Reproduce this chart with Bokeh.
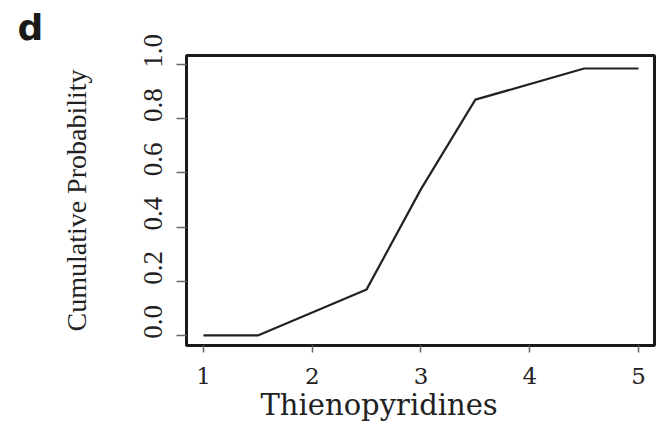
import numpy as np
from bokeh.plotting import figure
from bokeh.models import FixedTicker, Title, Range1d
from bokeh.embed import file_html
from bokeh.resources import INLINE

# ---- data ----
x_values = [1.0, 1.5, 2.5, 3.0, 3.5, 4.5, 5.0]
cum_prob = [0.0, 0.0, 0.17, 0.54, 0.87, 0.985, 0.985]
x_ticks = [1, 2, 3, 4, 5]
y_ticks = [0.0, 0.2, 0.4, 0.6, 0.8, 1.0]
y_tick_labels = ["0.0", "0.2", "0.4", "0.6", "0.8", "1.0"]
x_tick_labels = ["1", "2", "3", "4", "5"]
x_title = "Thienopyridines"
y_title = "Cumulative Probability"
panel_letter = "d"

W, H = 665, 427
FL, FR, FT, FB = 186, 11, 55, 82  # frame borders

p = figure(width=W, height=H, output_backend="svg", toolbar_location=None,
           x_range=Range1d(0.844, 5.147), y_range=Range1d(-0.037, 1.033),
           min_border_left=FL, min_border_right=FR, min_border_top=FT,
           min_border_bottom=FB)
p.background_fill_color = "white"
p.border_fill_color = "white"
p.grid.visible = False
p.outline_line_color = "#1a1a1a"
p.outline_line_width = 3

p.line(x_values, cum_prob, line_color="#222222", line_width=2.2)

# panel letter as the plot title
p.title.text = panel_letter
p.title.align = "left"
p.title.offset = -169
p.title.standoff = 11
p.title.vertical_align = "top"
p.title.text_font = "DejaVu Sans"
p.title.text_font_style = "bold"
p.title.text_font_size = "36px"
p.title.text_color = "#1a1a1a"

# x axis
xa = p.xaxis[0]
xa.ticker = FixedTicker(ticks=x_ticks)
xa.major_label_overrides = {t: s for t, s in zip(x_ticks, x_tick_labels)}
xa.axis_line_color = None
xa.major_tick_in = 0
xa.major_tick_out = 7
xa.minor_tick_line_color = None
xa.major_tick_line_color = "#666666"
xa.major_tick_line_width = 1.5
xa.major_label_text_font = "DejaVu Serif"
xa.major_label_text_font_size = "23px"
xa.major_label_text_color = "#222222"
xa.major_label_standoff = 15

# y axis (labels rotated, nudged up by leading no-break spaces)
pad = "\u00a0" * 4
ya = p.yaxis[0]
ya.ticker = FixedTicker(ticks=y_ticks)
ya.major_label_overrides = {t: pad + s for t, s in zip(y_ticks, y_tick_labels)}
ya.axis_line_color = None
ya.major_tick_in = 0
ya.major_tick_out = 10
ya.minor_tick_line_color = None
ya.major_tick_line_color = "#666666"
ya.major_tick_line_width = 1.5
ya.major_label_orientation = "parallel"
ya.major_label_text_font = "Liberation Serif"
ya.major_label_text_font_size = "27px"
ya.major_label_text_color = "#222222"
ya.major_label_standoff = 8
ya.axis_label = y_title
ya.axis_label_text_font = "Liberation Serif"
ya.axis_label_text_font_size = "28px"
ya.axis_label_text_font_style = "normal"
ya.axis_label_text_color = "#222222"
ya.axis_label_standoff = 44

# x title below the axis
xt = Title(text=x_title, align="left", offset=74, standoff=-1,
           text_font="DejaVu Serif", text_font_size="29px",
           text_font_style="normal", text_color="#222222")
p.add_layout(xt, "below")

open("out.html", "w").write(file_html(p, INLINE))
